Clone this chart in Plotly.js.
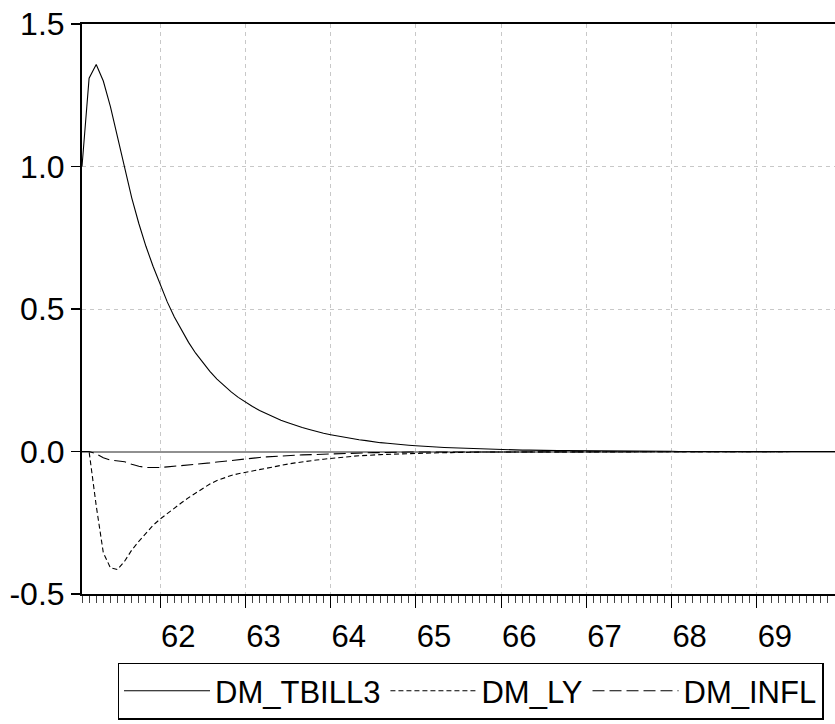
<!DOCTYPE html>
<html>
<head>
<meta charset="utf-8">
<script src="https://cdn.plot.ly/plotly-3.0.1.min.js"></script>
<style>html,body{margin:0;padding:0;background:#fff;}#chart{width:835px;height:724px;}</style>
</head>
<body>
<div id="chart"></div>
<script>
// Monthly periods 1961m2 .. 1969m12 (107 observations)
var startYear = 61, startMonth = 2, nObs = 107;

var seriesNames = ["DM_TBILL3", "DM_LY", "DM_INFL"];

var dmTbill3 = [
  1.00, 1.31, 1.358, 1.30, 1.21, 1.10, 0.99, 0.89, 0.80, 0.72, 0.65,
  0.585, 0.525, 0.472, 0.425, 0.383, 0.345, 0.311, 0.281, 0.254, 0.230,
  0.209, 0.190, 0.173, 0.158, 0.144, 0.132, 0.121, 0.110, 0.101, 0.092,
  0.084, 0.077, 0.070, 0.064, 0.059, 0.054, 0.049, 0.045, 0.041, 0.038,
  0.034, 0.031, 0.029, 0.026, 0.024, 0.022, 0.020, 0.018, 0.017, 0.015,
  0.014, 0.013, 0.012, 0.011, 0.010, 0.009, 0.008, 0.007, 0.007, 0.006,
  0.006, 0.005, 0.005, 0.004, 0.004, 0.004, 0.003, 0.003, 0.003, 0.002,
  0.002, 0.002, 0.002, 0.002, 0.001, 0.001, 0.001, 0.001, 0.001, 0.001,
  0.001, 0.001, 0.001, 0.000, 0.000, 0.000, 0.000, 0.000, 0.000, 0.000,
  0.000, 0.000, 0.000, 0.000, 0.000, 0.000, 0.000, 0.000, 0.000, 0.000,
  0.000, 0.000, 0.000, 0.000, 0.000, 0.000
];

var dmLy = [
  0.000, 0.000, -0.190, -0.355, -0.408, -0.414, -0.385, -0.346, -0.315, -0.285, -0.259,
  -0.237, -0.217, -0.198, -0.180, -0.162, -0.146, -0.128, -0.114, -0.102, -0.092,
  -0.084, -0.078, -0.073, -0.067, -0.062, -0.057, -0.052, -0.048, -0.044, -0.040,
  -0.036, -0.033, -0.030, -0.027, -0.024, -0.022, -0.019, -0.017, -0.015, -0.013,
  -0.012, -0.011, -0.010, -0.009, -0.008, -0.007, -0.006, -0.006, -0.005, -0.005,
  -0.004, -0.004, -0.003, -0.003, -0.003, -0.002, -0.002, -0.002, -0.002, -0.001,
  -0.001, -0.001, -0.001, -0.001, -0.001, 0.000, 0.000, 0.000, 0.000, 0.000,
  0.000, 0.000, 0.000, 0.000, 0.000, 0.000, 0.000, 0.000, 0.000, 0.000,
  0.000, 0.000, 0.000, 0.000, 0.000, 0.000, 0.000, 0.000, 0.000, 0.000,
  0.000, 0.000, 0.000, 0.000, 0.000, 0.000, 0.000, 0.000, 0.000, 0.000,
  0.000, 0.000, 0.000, 0.000, 0.000, 0.000
];

var dmInfl = [
  0.000, 0.000, -0.008, -0.022, -0.030, -0.033, -0.036, -0.045, -0.052, -0.056, -0.057,
  -0.056, -0.054, -0.052, -0.050, -0.048, -0.046, -0.043, -0.040, -0.037, -0.034,
  -0.031, -0.028, -0.025, -0.023, -0.021, -0.019, -0.017, -0.016, -0.014, -0.013,
  -0.012, -0.011, -0.010, -0.009, -0.008, -0.007, -0.006, -0.006, -0.005, -0.005,
  -0.004, -0.004, -0.003, -0.003, -0.003, -0.002, -0.002, -0.002, -0.001, -0.001,
  0.000, 0.000, 0.000, 0.000, 0.000, 0.000, 0.000, 0.000, 0.000, 0.000,
  0.000, 0.000, 0.000, 0.000, 0.000, 0.000, 0.000, 0.000, 0.000, 0.000,
  0.000, 0.000, 0.000, 0.000, 0.000, 0.000, 0.000, 0.000, 0.000, 0.000,
  0.000, 0.000, 0.000, 0.000, 0.000, 0.000, 0.000, 0.000, 0.000, 0.000,
  0.000, 0.000, 0.000, 0.000, 0.000, 0.000, 0.000, 0.000, 0.000, 0.000,
  0.000, 0.000, 0.000, 0.000, 0.000, 0.000
];

var xTickVals = [62, 63, 64, 65, 66, 67, 68, 69];
var xTickText = ["62", "63", "64", "65", "66", "67", "68", "69"];
var yTickVals = [-0.5, 0.0, 0.5, 1.0, 1.5];
var yTickText = ["-0.5", "0.0", "0.5", "1.0", "1.5"];

// period positions (year + fraction of year at the start of each month)
var periods = [];
for (var i = 0; i < nObs; i++) {
  periods.push(startYear + (startMonth - 1 + i) / 12);
}

var font = "Liberation Sans, Arial, sans-serif";

var traces = [
  {x: periods, y: dmTbill3, name: seriesNames[0], type: "scatter", mode: "lines",
   line: {color: "#000", width: 1.1}},
  {x: periods, y: dmLy, name: seriesNames[1], type: "scatter", mode: "lines",
   line: {color: "#000", width: 1.1, dash: "5px,3px"}},
  {x: periods, y: dmInfl, name: seriesNames[2], type: "scatter", mode: "lines",
   line: {color: "#000", width: 1.1, dash: "12px,5px"}}
];

var layout = {
  width: 835, height: 724,
  margin: {l: 82, r: 0, t: 24, b: 130},
  paper_bgcolor: "#fff", plot_bgcolor: "#fff",
  showlegend: true,
  font: {family: font, size: 31, color: "#000"},
  xaxis: {
    range: [periods[0], periods[nObs - 1]],
    tickmode: "array", tickvals: xTickVals, ticktext: xTickText,
    ticks: "outside", ticklen: 12, tickwidth: 1.2, tickcolor: "#000",
    ticklabelshift: 18, ticklabelstandoff: 2,
    showline: true, linecolor: "#000", linewidth: 2, mirror: true,
    showgrid: true, gridcolor: "#c8c8c8", gridwidth: 1, griddash: "4px,4px",
    zeroline: false,
    tickfont: {family: font, size: 31, color: "#000"},
    minor: {tickmode: "linear", tick0: 61, dtick: 1 / 12, ticks: "outside", ticklen: 7,
            tickwidth: 1, tickcolor: "#444", showgrid: false}
  },
  yaxis: {
    range: [-0.5, 1.5],
    tickmode: "array", tickvals: yTickVals, ticktext: yTickText,
    ticks: "outside", ticklen: 9, tickwidth: 1.2, tickcolor: "#000",
    showline: true, linecolor: "#000", linewidth: 2, mirror: false,
    showgrid: true, gridcolor: "#c8c8c8", gridwidth: 1, griddash: "4px,4px",
    zeroline: true, zerolinecolor: "#909090", zerolinewidth: 2,
    tickfont: {family: font, size: 32, color: "#000"}
  },
  legend: {
    orientation: "h",
    xref: "container", yref: "container",
    x: 0.5635, xanchor: "center",
    y: 0.006, yanchor: "bottom",
    bgcolor: "#fff", bordercolor: "#000", borderwidth: 1.5,
    itemwidth: 86,
    font: {family: font, size: 31, color: "#000"},
    traceorder: "normal"
  }
};

Plotly.newPlot("chart", traces, layout, {staticPlot: true, displayModeBar: false});
</script>
</body>
</html>
